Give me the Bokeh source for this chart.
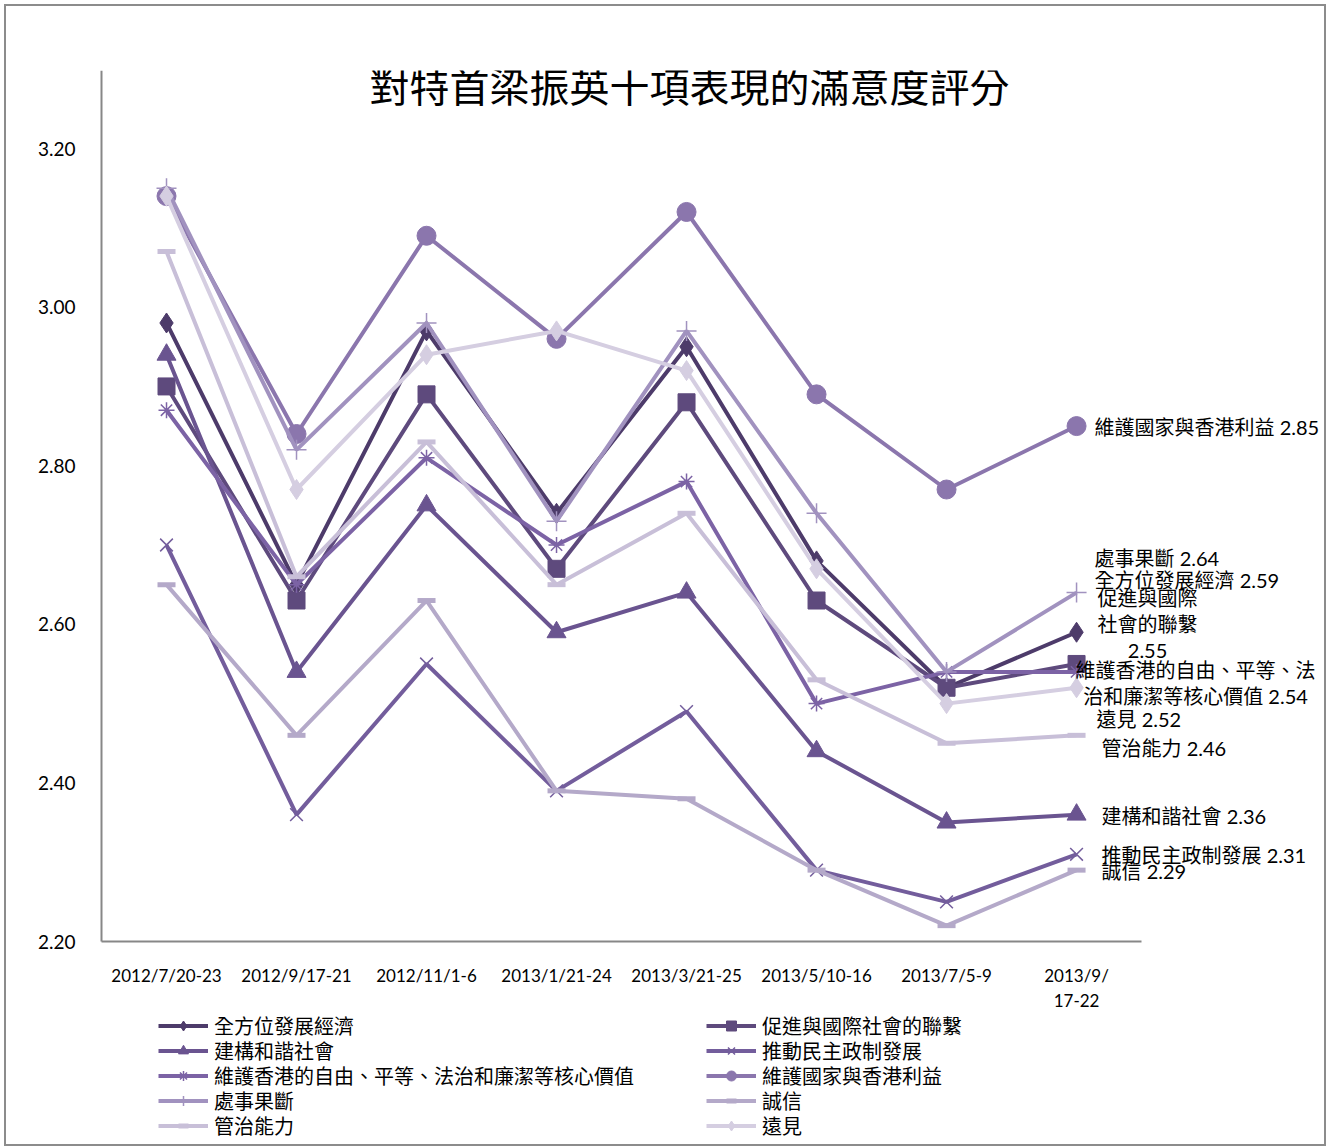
from bokeh.plotting import figure
from bokeh.models import (Range1d, FixedTicker, Legend, LegendItem,
                          Label, ColumnDataSource, NumeralTickFormatter)
from bokeh.embed import file_html
from bokeh.resources import INLINE

# ---------------- data ----------------
periods = ["2012/7/20-23", "2012/9/17-21", "2012/11/1-6", "2013/1/21-24",
           "2013/3/21-25", "2013/5/10-16", "2013/7/5-9", "2013/9/\n17-22"]

s_economy    = [2.98, 2.65, 2.97, 2.74, 2.95, 2.68, 2.52, 2.59]  # 全方位發展經濟
s_intl       = [2.90, 2.63, 2.89, 2.67, 2.88, 2.63, 2.52, 2.55]  # 促進與國際社會的聯繫
s_harmony    = [2.94, 2.54, 2.75, 2.59, 2.64, 2.44, 2.35, 2.36]  # 建構和諧社會
s_democracy  = [2.70, 2.36, 2.55, 2.39, 2.49, 2.29, 2.25, 2.31]  # 推動民主政制發展
s_values     = [2.87, 2.65, 2.81, 2.70, 2.78, 2.50, 2.54, 2.54]  # 維護香港的自由…核心價值
s_interests  = [3.14, 2.84, 3.09, 2.96, 3.12, 2.89, 2.77, 2.85]  # 維護國家與香港利益
s_decisive   = [3.15, 2.82, 2.98, 2.73, 2.97, 2.74, 2.54, 2.64]  # 處事果斷
s_integrity  = [2.65, 2.46, 2.63, 2.39, 2.38, 2.29, 2.22, 2.29]  # 誠信
s_governance = [3.07, 2.66, 2.83, 2.65, 2.74, 2.53, 2.45, 2.46]  # 管治能力
s_vision     = [3.14, 2.77, 2.94, 2.97, 2.92, 2.67, 2.50, 2.52]  # 遠見

names = ["全方位發展經濟", "促進與國際社會的聯繫", "建構和諧社會", "推動民主政制發展",
         "維護香港的自由、平等、法治和廉潔等核心價值", "維護國家與香港利益", "處事果斷",
         "誠信", "管治能力", "遠見"]
series = [s_economy, s_intl, s_harmony, s_democracy, s_values, s_interests,
          s_decisive, s_integrity, s_governance, s_vision]

y_ticks = [2.20, 2.40, 2.60, 2.80, 3.00, 3.20]
y_min, y_top = 2.20, 3.2984
title_text = "對特首梁振英十項表現的滿意度評分"

# category centres on a numeric axis (band i spans i..i+1)
xpos = [i + 0.5 for i in range(len(periods))]
n_cat = len(periods)

# ---------------- styles ----------------
colors = ["#4D3B6A", "#5E4A7D", "#6A5490", "#735D9C", "#7C63A5",
          "#8B76AD", "#A192BF", "#B4A9C9", "#C8BFD8", "#D5CEE1"]
markers = ["diamond", "square", "triangle", "x", "asterisk", "circle",
           "cross", "dash", "dash", "diamond"]
msizes = [20, 17, 19, 18, 16, 19, 20, 18, 18, 20]
mlw = [1, 1, 1, 1.5, 1.5, 1, 1.5, 5, 5, 1]
# end-label layout (wrapping, alignment, pixel offsets; dy positive = down)
wrapped = {1: "促進與國際\n社會的聯繫\n", 4: "維護香港的自由、平等、法\n治和廉潔等核心價值 "}
lab_align = ["left", "center", "left", "left", "center", "left", "left", "left", "left", "left"]
lab_dx = [18, 71, 25, 25, 119, 18, 18, 25, 25, 20]
lab_dy = [-52, -40, 1, 1, 11, 1, -35, 1, 13, 31]
# legend grid: two columns, rows 25 px apart (offsets from frame bottom-left)
leg_col_x = [152, 700]
leg_row_y = [108, 83, 58, 33, 8]

CJK = "Noto Sans CJK TC"
MIX = "Lato, Noto Sans CJK TC"
LAT = "Lato"

# frame covers the whole canvas; axes are pinned inside it
p = figure(width=1322, height=1142, x_range=Range1d(-0.7308, 9.438),
           y_range=Range1d(1.93897, y_top), output_backend="svg", toolbar_location=None,
           min_border_left=0, min_border_right=0, min_border_top=64,
           min_border_bottom=0)
p.styles = {"border": "2px solid #8c8c8c", "box-sizing": "border-box",
            "margin-left": "4px", "margin-top": "4px"}
p.outline_line_color = None
p.xgrid.grid_line_color = None
p.ygrid.grid_line_color = None
p.background_fill_color = "white"
p.border_fill_color = "white"

for ax in (p.xaxis[0], p.yaxis[0]):
    ax.axis_line_color = "#878787"
    ax.axis_line_width = 2
    ax.major_tick_line_color = None
    ax.minor_tick_line_color = None
    ax.major_tick_out = 0
    ax.major_tick_in = 0
    ax.major_label_text_font = LAT
    ax.major_label_text_color = "#000000"

p.xaxis.ticker = FixedTicker(ticks=xpos)
p.xaxis.major_label_overrides = {x: lab for x, lab in zip(xpos, periods)}
p.xaxis.major_label_text_font_size = "17px"
p.xaxis.fixed_location = y_min
p.xaxis.bounds = (0, n_cat)
p.xaxis.major_label_standoff = 23

p.yaxis.major_label_text_font_size = "19px"
p.yaxis.ticker = FixedTicker(ticks=y_ticks)
p.yaxis.formatter = NumeralTickFormatter(format="0.00")
p.yaxis.major_label_standoff = 26
p.yaxis.fixed_location = 0
p.yaxis.bounds = (y_min, y_top)

items = []
for i, (nm, ys) in enumerate(zip(names, series)):
    src = ColumnDataSource(dict(x=xpos, y=ys))
    ln = p.line("x", "y", source=src, line_color=colors[i], line_width=4)
    sc = p.scatter("x", "y", source=src, marker=markers[i], size=msizes[i],
                   fill_color=colors[i], line_color=colors[i], line_width=mlw[i])
    items.append(LegendItem(label=nm, renderers=[ln, sc]))

# end labels at the last point of each series
for i, (nm, ys) in enumerate(zip(names, series)):
    txt = (wrapped[i] if i in wrapped else nm + " ") + f"{ys[-1]:.2f}"
    p.add_layout(Label(x=xpos[-1], y=ys[-1], text=txt, text_font=MIX,
                       text_font_size="20px", text_color="#000000",
                       text_align=lab_align[i], text_baseline="middle",
                       x_offset=lab_dx[i], y_offset=-lab_dy[i],
                       text_line_height=1.1))

# title
p.add_layout(Label(x=4.523, y=3.2807, text=title_text, text_font=CJK,
                   text_font_size="40px", text_align="center",
                   text_baseline="middle", text_color="#000000"))

# legend: one entry per small legend, laid out row by row in two columns
for k, it in enumerate(items):
    lg = Legend(items=[it], location=(leg_col_x[k % 2], leg_row_y[k // 2]),
                orientation="vertical",
                label_text_font=MIX, label_text_font_size="20px",
                label_text_color="#000000", glyph_width=50, glyph_height=25,
                label_height=25, label_standoff=6, spacing=0,
                padding=0, margin=0, border_line_color=None, background_fill_alpha=0)
    p.add_layout(lg, "center")

open("out.html", "w").write(file_html(p, INLINE))
